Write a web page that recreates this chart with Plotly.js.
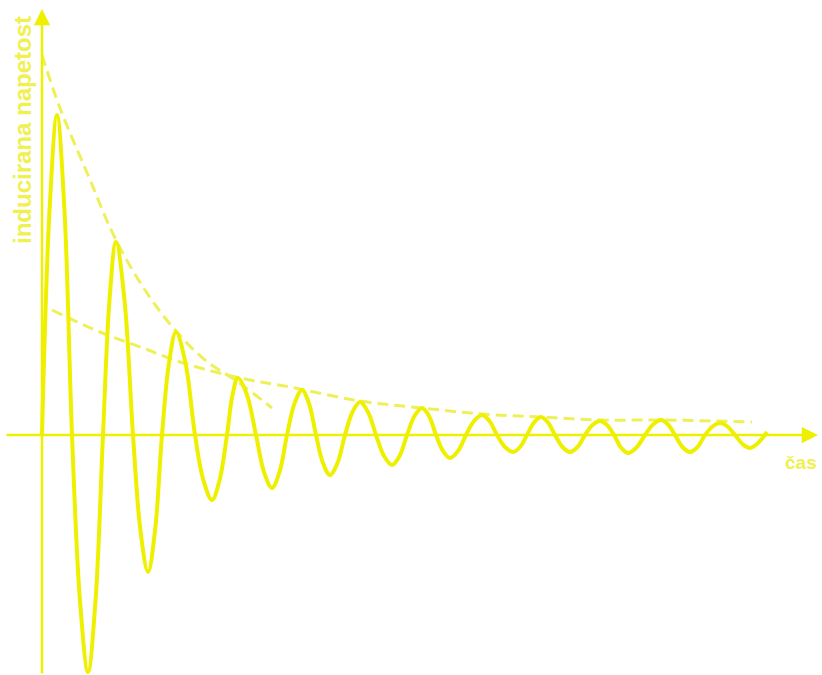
<!DOCTYPE html>
<html>
<head>
<meta charset="utf-8">
<script src="https://cdn.plot.ly/plotly-3.0.1.min.js"></script>
<style>html,body{margin:0;padding:0;background:#fff;}#chart{width:822px;height:675px;}</style>
</head>
<body>
<div id="chart"></div>
<script>
// Damped oscillation: time (arbitrary units) and induced voltage (arbitrary units)
const timeCurve = [0, 0.75, 1.5, 2.25, 3.0, 3.8, 4.6, 5.35, 6.1, 6.75, 7.4, 8.25, 9.1, 9.85, 10.6, 11.3, 12.0,
  12.7, 13.4, 14.35, 15.3, 16.15, 17.0, 17.75, 18.5, 19.05, 19.6, 20.5, 21.4, 22.2, 23.0, 23.75, 24.5,
  25.25, 26.0, 26.7, 27.4, 28.1, 28.8, 29.55, 30.3, 31.05, 31.8, 32.6, 33.4, 34.2, 35.0, 35.75, 36.5,
  37.25, 38.0, 38.7, 39.4, 40.1, 40.8, 41.6, 42.4, 43.2, 44.0, 44.75, 45.5, 46.3, 47.1, 47.8, 48.5,
  49.2, 49.9, 50.6, 51.3, 52.05, 52.8, 53.55, 54.3, 55.05, 55.8, 56.5, 57.2, 57.9, 58.6, 59.45, 60.3,
  61.1, 61.9, 62.6, 63.3, 64.05, 64.8, 65.55, 66.3, 67.05, 67.8, 68.55, 69.3, 70.05, 70.8, 71.6, 72.5];
const voltCurve = [0, 22.4, 32.0, 22.4, 0, -16.6, -23.7, -16.6, 0, 13.5, 19.3, 13.5, 0, -9.6, -13.7, -9.6, 0,
  7.2, 10.3, 7.2, 0, -4.55, -6.5, -4.55, 0, 4.0, 5.7, 4.0, 0, -3.7, -5.3, -3.7, 0,
  3.15, 4.5, 3.15, 0, -2.8, -4.0, -2.8, 0, 2.3, 3.3, 2.3, 0, -2.1, -3.0, -2.1, 0,
  1.9, 2.7, 1.9, 0, -1.6, -2.3, -1.6, 0, 1.4, 2.0, 1.4, 0, -1.2, -1.7, -1.2, 0,
  1.25, 1.8, 1.25, 0, -1.2, -1.7, -1.2, 0, 1.0, 1.4, 1.0, 0, -1.25, -1.8, -1.25, 0,
  1.05, 1.5, 1.05, 0, -1.2, -1.7, -1.2, 0, 0.85, 1.2, 0.85, 0, -0.9, -1.3, -0.8, 0.3];

// Steep dashed envelope
const timeEnv1 = [0, 1.8, 4.6, 7.3, 10.3, 13.3, 16.3, 19.6, 23.0];
const voltEnv1 = [38.0, 32.7, 26.0, 19.7, 14.5, 10.5, 7.5, 5.3, 2.7];

// Shallow dashed envelope
const timeEnv2 = [1.0, 5.8, 10.1, 13.8, 19.8, 24.8, 31.8, 38.0, 44.0, 49.8, 55.8, 61.8, 71.0];
const voltEnv2 = [12.5, 10.3, 8.7, 7.3, 5.7, 4.8, 3.4, 2.7, 2.1, 1.8, 1.5, 1.5, 1.3];

const yLabel = 'inducirana napetost';
const xLabel = 'čas';

const curveColor = '#eef000';
const dashColor = 'rgba(238,240,90,1)';
const textColor = 'rgba(240,240,80,1)';

const traces = [
  {x: timeEnv1, y: voltEnv1, mode: 'lines', line: {color: dashColor, width: 3, dash: '11px,6px', shape: 'spline'}, hoverinfo: 'skip'},
  {x: timeEnv2, y: voltEnv2, mode: 'lines', line: {color: dashColor, width: 3, dash: '11px,6px', shape: 'spline'}, hoverinfo: 'skip'},
  {x: timeCurve, y: voltCurve, mode: 'lines', line: {color: curveColor, width: 4, shape: 'spline', smoothing: 1}, hoverinfo: 'skip'}
];

const layout = {
  width: 822, height: 675,
  margin: {l: 0, r: 0, t: 0, b: 0},
  paper_bgcolor: '#ffffff', plot_bgcolor: '#ffffff',
  showlegend: false,
  xaxis: {range: [-4.2, 78.0], visible: false, fixedrange: true},
  yaxis: {range: [-24.0, 43.5], visible: false, fixedrange: true},
  annotations: [
    {x: 0, y: 42.6, ax: 0, ay: -24.0, xref: 'x', yref: 'y', axref: 'x', ayref: 'y',
     showarrow: true, arrowhead: 2, arrowsize: 1.3, arrowwidth: 2.5, arrowcolor: curveColor, text: ''},
    {x: 77.6, y: 0, ax: -3.7, ay: 0, xref: 'x', yref: 'y', axref: 'x', ayref: 'y',
     showarrow: true, arrowhead: 2, arrowsize: 1.3, arrowwidth: 2.5, arrowcolor: curveColor, text: ''},
    {x: -2.0, y: 30.5, xref: 'x', yref: 'y', text: yLabel, showarrow: false, textangle: -90,
     font: {family: 'Liberation Sans, Arial, sans-serif', size: 24, color: textColor, weight: 'bold'}},
    {x: 75.9, y: -2.7, xref: 'x', yref: 'y', text: xLabel, showarrow: false,
     font: {family: 'Liberation Sans, Arial, sans-serif', size: 19, color: textColor, weight: 'bold'}}
  ]
};

Plotly.newPlot('chart', traces, layout, {staticPlot: true, displayModeBar: false});
</script>
</body>
</html>
